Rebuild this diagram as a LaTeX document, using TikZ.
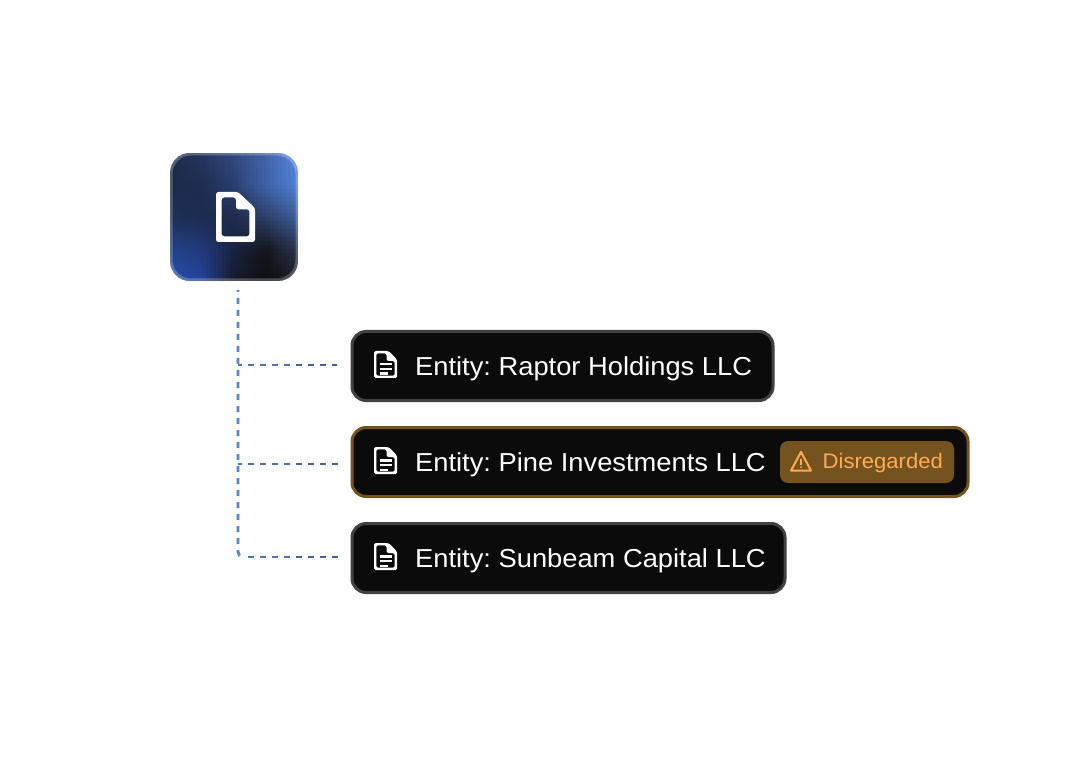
\documentclass[tikz,border=0pt]{standalone}
\usepackage{fontspec}
\setmainfont[FakeStretch=1.05]{Liberation Sans}
\definecolor{boxfill}{HTML}{0B0B0B}
\definecolor{boxedge}{HTML}{414144}
\definecolor{warnedge}{HTML}{74531F}
\definecolor{warntext}{HTML}{FFAB52}
\definecolor{linkA}{HTML}{5586CC}
\definecolor{linkB}{HTML}{4B75B2}
\definecolor{linkC}{HTML}{3F6498}
% colour keys of the tile: five by five, row by row
\def\Rv{{31,37,51,68,90,29,30,42,63,80,31,28,30,45,64,35,34,26,21,42,36,35,22,15,28}}
\def\Gv{{43,54,73,100,134,42,44,63,98,129,48,43,43,64,95,67,57,36,22,53,80,69,26,15,30}}
\def\Bv{{75,94,127,168,216,74,80,112,168,214,88,79,76,105,156,137,122,64,28,80,172,154,44,16,36}}
\tikzset{
  x=1pt,y=-1pt,
  rootbox/.style={draw=white,draw opacity=.24,line width=3pt,rounded corners=20pt,minimum size=126pt,inner sep=0pt,outer sep=0pt},
  entity/.style={draw=boxedge,fill=boxfill,line width=3pt,rounded corners=14pt,minimum height=69pt,inner sep=0pt,outer sep=0pt,anchor=west},
  warnentity/.style={entity,draw=warnedge},
  badge/.style={fill=warnedge,rounded corners=8pt,minimum height=42pt,minimum width=174pt,inner sep=0pt,outer sep=0pt},
  entitytext/.style={text=white,font=\fontsize{26}{30}\selectfont\frenchspacing,inner sep=0pt,anchor=base west},
  badgetext/.style={text=warntext,font=\fontsize{21}{25}\selectfont,inner sep=0pt,anchor=base west},
  trunklink/.style={draw=linkA,line width=2.8pt,dash pattern=on 6pt off 6pt,dash phase=4pt},
  branchlink/.style={line width=2.8pt,dash pattern=on 6pt off 6pt},
  docicon/.pic={
    \fill[white,even odd rule,rounded corners=1.5pt]
      (-11.5,-13.5) -- (3,-13.5) -- (11.5,-5) -- (11.5,13.5) -- (-11.5,13.5) -- cycle
      (-9.2,-11.2) -- (1,-11.2) -- (1,-3.5) -- (9.2,-3.5) -- (9.2,11.2) -- (-9.2,11.2) -- cycle;
    \fill[white] (-5.5,-1.3) rectangle (6,1);
    \fill[white] (-5.5,3.4) rectangle (6,5.7);
    \fill[white] (-5.5,8) rectangle (2,10.3);
  }
}
\begin{document}
\begin{tikzpicture}
\useasboundingbox (0,0) rectangle (1092,783);
\fill[white] (0,0) rectangle (1092,783);
% gradient tile
\begin{scope}
  \clip[rounded corners=20pt] (170,153) rectangle (298,281);
  \foreach \i in {0,...,31}{
    \pgfmathtruncatemacro{\ix}{floor((\i+.5)/8)}
    \pgfmathsetmacro{\fx}{(\i+.5)/8-\ix}
    \foreach \j in {0,...,31}{
      \pgfmathtruncatemacro{\iy}{floor((\j+.5)/8)}
      \pgfmathsetmacro{\fy}{(\j+.5)/8-\iy}
      \pgfmathtruncatemacro{\pa}{5*\iy+\ix}
      \pgfmathtruncatemacro{\pb}{\pa+1}
      \pgfmathtruncatemacro{\pc}{\pa+5}
      \pgfmathtruncatemacro{\pd}{\pa+6}
      \pgfmathtruncatemacro{\cr}{(1-\fy)*((1-\fx)*\Rv[\pa]+\fx*\Rv[\pb])+\fy*((1-\fx)*\Rv[\pc]+\fx*\Rv[\pd])}
      \pgfmathtruncatemacro{\cg}{(1-\fy)*((1-\fx)*\Gv[\pa]+\fx*\Gv[\pb])+\fy*((1-\fx)*\Gv[\pc]+\fx*\Gv[\pd])}
      \pgfmathtruncatemacro{\cb}{(1-\fy)*((1-\fx)*\Bv[\pa]+\fx*\Bv[\pb])+\fy*((1-\fx)*\Bv[\pc]+\fx*\Bv[\pd])}
      \definecolor{cellcolour}{RGB}{\cr,\cg,\cb}
      \fill[cellcolour] ({170+4*\i},{153+4*\j}) rectangle +(4.5,4.5);
    }
  }
\end{scope}
\node[rootbox] (doc) at (234,217) {};
\fill[white,even odd rule,rounded corners=2.5pt]
  (216,192) -- (238,192) -- (255,208) -- (255,242) -- (216,242) -- cycle
  (221.7,197.5) -- (236,197.5) -- (236,209.3) -- (249.4,209.3) -- (249.4,236.3) -- (221.7,236.3) -- cycle;
% entity boxes
\node[entity,minimum width=421pt] (ent1) at (352,366) {};
\node[warnentity,minimum width=616pt] (ent2) at (352,462) {};
\node[entity,minimum width=433pt] (ent3) at (352,558) {};
\pic at (385.5,364.5) {docicon};
\pic at (385.5,460.5) {docicon};
\pic at (385.5,556.5) {docicon};
\node[entitytext] (lab1) at (415,375) {Entity: Raptor Holdings LLC};
\node[entitytext] (lab2) at (415,471) {Entity: Pine Investments LLC};
\node[entitytext] (lab3) at (415,567) {Entity: Sunbeam Capital LLC};
% badge
\node[badge] (warn) at (867,462) {};
\node[badgetext] (warnlab) at (822.5,468) {Disregarded};
\draw[warntext,line width=2pt,line join=round] (801,452) -- (811,470.5) -- (791,470.5) -- cycle;
\draw[warntext,line width=1.6pt] (801,458.5) -- (801,464.5);
\fill[warntext] (801,467.2) circle (1);
% connectors
\coordinate (j1) at (238,365);
\coordinate (j2) at (238,464);
\coordinate (j3) at (238,557);
\coordinate (j3e) at (244,557);
\draw[trunklink,shorten <=10pt,rounded corners=5pt] (doc.south -| j1) -- (j3) -- (j3e);
\draw[branchlink,draw=linkB,dash phase=2pt,shorten >=15.5pt] (j1) -- (ent1.west |- j1);
\draw[branchlink,draw=linkB,dash phase=2pt,shorten >=14.5pt] (j2) -- (ent2.west |- j2);
\draw[branchlink,draw=linkB,dash phase=8pt,shorten >=14.5pt] (j3e) -- (ent3.west |- j3e);
\foreach \j/\e/\s in {j1/ent1/15.5pt,j2/ent2/14.5pt,j3/ent3/14.5pt}{
  \draw[branchlink,draw=linkC,shorten >=\s] ([xshift=58pt]\j) -- (\e.west |- \j);
}
\end{tikzpicture}
\end{document}
